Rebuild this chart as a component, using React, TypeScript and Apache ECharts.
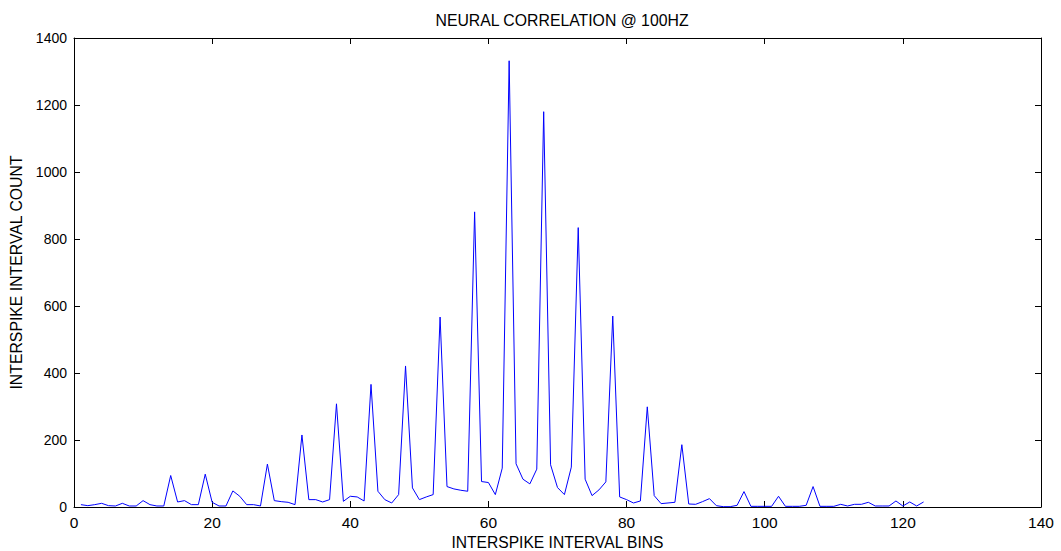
import React, { useEffect, useRef } from "react";
import * as echarts from "echarts";

const titleText = "NEURAL CORRELATION @ 100HZ";
const xAxisName = "INTERSPIKE INTERVAL BINS";
const yAxisName = "INTERSPIKE INTERVAL COUNT";
const firstBin = 1;
const counts = [
  7, 4, 7, 11, 4, 3, 11, 3, 3, 19,
  7, 3, 3, 94, 15, 19, 7, 7, 98, 14,
  3, 3, 48, 32, 7, 7, 3, 128, 19, 16,
  14, 7, 215, 22, 22, 15, 22, 308, 17, 32,
  30, 18, 366, 47, 22, 12, 37, 421, 57, 22,
  30, 37, 567, 61, 54, 50, 47, 881, 76, 73,
  37, 116, 1332, 129, 83, 69, 113, 1180, 126, 58,
  37, 119, 834, 83, 34, 51, 75, 570, 30, 22,
  12, 18, 299, 34, 10, 12, 14, 186, 9, 8,
  16, 25, 4, 1, 1, 5, 46, 2, 2, 2,
  2, 32, 2, 2, 2, 5, 61, 2, 2, 2,
  8, 3, 8, 8, 14, 3, 3, 3, 18, 3,
  15, 3, 15,
];

const FONT = "'Liberation Sans', Arial, sans-serif";

export default function App() {
  const ref = useRef<HTMLDivElement>(null);
  useEffect(() => {
    if (!ref.current) return;
    const chart = echarts.init(ref.current, undefined, { renderer: "svg" });
    const data = counts.map((c, i) => [firstBin + i, c]);
    const axisCommon = {
      axisLine: { show: true, onZero: false, lineStyle: { color: "#000", width: 1 } },
      axisTick: { show: true, inside: true, length: 6, lineStyle: { color: "#000", width: 1 } },
      splitLine: { show: false },
    };
    chart.setOption({
      animation: false,
      backgroundColor: "#fff",
      title: {
        text: titleText,
        left: 557,
        top: 7,
        textAlign: "center",
        textStyle: { fontFamily: FONT, fontSize: 15.8, fontWeight: "normal", color: "#000" },
      },
      grid: { left: 74, right: 20, top: 38, bottom: 44, containLabel: false, outerBoundsMode: "none" },
      xAxis: [
        {
          type: "value",
          min: 0,
          max: 140,
          interval: 20,
          position: "bottom",
          name: xAxisName,
          nameLocation: "middle",
          nameGap: 27,
          nameTextStyle: { fontFamily: FONT, fontSize: 15.6, color: "#000" },
          axisLabel: { fontFamily: FONT, fontSize: 15.5, color: "#000", margin: 7 },
          ...axisCommon,
        },
        {
          type: "value",
          min: 0,
          max: 140,
          interval: 20,
          position: "top",
          axisLabel: { show: false },
          ...axisCommon,
        },
      ],
      yAxis: [
        {
          type: "value",
          min: 0,
          max: 1400,
          interval: 200,
          position: "left",
          name: yAxisName,
          nameLocation: "middle",
          nameGap: 48,
          nameTextStyle: { fontFamily: FONT, fontSize: 15.8, color: "#000" },
          axisLabel: {
            fontFamily: FONT,
            fontSize: 14,
            color: "#000",
            margin: 7,
            formatter: (v: number) => String(v),
          },
          ...axisCommon,
        },
        {
          type: "value",
          min: 0,
          max: 1400,
          interval: 200,
          position: "right",
          axisLabel: { show: false },
          ...axisCommon,
        },
      ],
      series: [
        {
          type: "line",
          data,
          xAxisIndex: 0,
          yAxisIndex: 0,
          showSymbol: false,
          symbol: "none",
          lineStyle: { color: "#0000ff", width: 1 },
        },
      ],
    });
    return () => chart.dispose();
  }, []);
  return (
    <div
      ref={ref}
      style={{ position: "fixed", left: 0, top: 0, width: 1061, height: 551, background: "#fff" }}
    />
  );
}
